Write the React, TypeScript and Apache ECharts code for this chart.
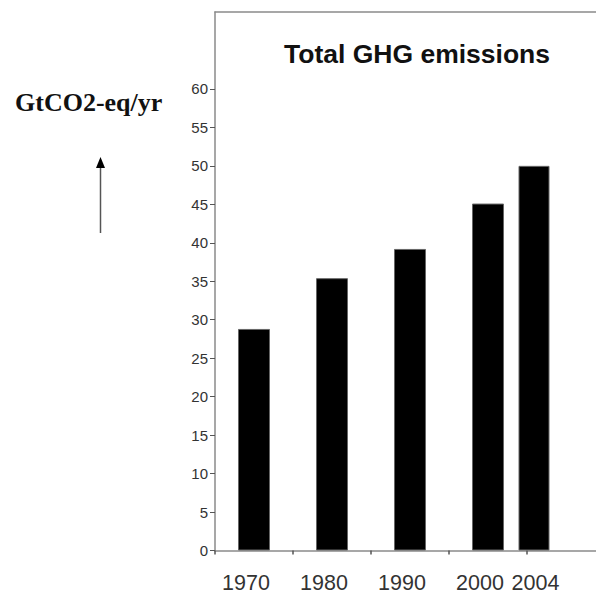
import React, { useEffect, useRef } from "react";
import * as echarts from "echarts";

// Decade bars share the regular category axis; the 2004 bar sits in its own
// narrow slot just right of the 2000 bar, as in the reference figure.
const decadeYears = ["1970", "1980", "1990", "2000"];
const decadeEmissions = [28.8, 35.4, 39.2, 45.1];
const latestYear = ["2004"];
const latestEmissions = [50.0];
const yTickValues = [0, 5, 10, 15, 20, 25, 30, 35, 40, 45, 50, 55, 60];
const chartTitle = "Total GHG emissions";
const unitLabel = "GtCO2-eq/yr";

const FONT = "Liberation Sans, Arial, sans-serif";
const AXIS_GREY = "#8a8a8a";

export default function App() {
  const ref = useRef<HTMLDivElement>(null);
  useEffect(() => {
    if (!ref.current) return;
    const chart = echarts.init(ref.current, undefined, { renderer: "svg" });
    const frameLine = (position: "top" | "bottom") => ({
      gridIndex: 2,
      type: "value",
      position,
      min: 0,
      max: 1,
      axisLine: { show: true, lineStyle: { color: AXIS_GREY, width: 1.5 } },
      axisTick: { show: false },
      axisLabel: { show: false },
      splitLine: { show: false },
    });
    chart.setOption({
      animation: false,
      backgroundColor: "#fff",
      grid: [
        { left: 215, top: 12, bottom: 44.5, width: 312 },
        { left: 472, top: 12, bottom: 44.5, right: 0 },
        { left: 215, top: 12, bottom: 44.5, right: 0 },
      ],
      title: {
        text: chartTitle,
        left: 412,
        textAlign: "center",
        top: 35,
        textStyle: {
          fontFamily: FONT,
          fontSize: 26.5,
          fontWeight: "bold",
          color: "#111",
        },
      },
      xAxis: [
        {
          gridIndex: 0,
          type: "category",
          data: decadeYears,
          axisLine: { show: false },
          axisTick: { show: true, length: 4, lineStyle: { color: "#555", width: 1.5 } },
          splitLine: { show: false },
          axisLabel: {
            margin: 21,
            formatter: (v: string) => `{l|${v}}`,
            rich: {
              l: { padding: [0, 16, 0, 0], fontSize: 21.5, color: "#333", fontFamily: FONT },
            },
          },
        },
        {
          gridIndex: 1,
          type: "category",
          data: latestYear,
          axisLine: { show: false },
          axisTick: { show: false },
          splitLine: { show: false },
          axisLabel: {
            margin: 21,
            formatter: (v: string) => `{r|${v}}`,
            rich: {
              r: { padding: [0, 0, 0, 3], fontSize: 21.5, color: "#333", fontFamily: FONT },
            },
          },
        },
        frameLine("bottom"),
        frameLine("top"),
      ],
      yAxis: [
        {
          gridIndex: 0,
          type: "value",
          min: 0,
          max: 70,
          axisLine: { show: true, lineStyle: { color: AXIS_GREY, width: 1.5 } },
          axisTick: {
            show: true,
            customValues: yTickValues,
            length: 5,
            lineStyle: { color: "#555", width: 1 },
          },
          splitLine: { show: false },
          axisLabel: {
            customValues: yTickValues,
            margin: 7,
            fontFamily: FONT,
            fontSize: 15,
            color: "#333",
          },
        },
        {
          gridIndex: 1,
          type: "value",
          min: 0,
          max: 70,
          show: false,
          splitLine: { show: false },
        },
        {
          gridIndex: 2,
          type: "value",
          min: 0,
          max: 70,
          show: false,
          splitLine: { show: false },
        },
      ],
      series: [
        {
          type: "bar",
          xAxisIndex: 0,
          yAxisIndex: 0,
          data: decadeEmissions,
          barWidth: 32,
          itemStyle: { color: "#000", borderColor: "#666", borderWidth: 1 },
        },
        {
          type: "bar",
          xAxisIndex: 1,
          yAxisIndex: 1,
          data: latestEmissions,
          barWidth: 31,
          itemStyle: { color: "#000", borderColor: "#666", borderWidth: 1 },
        },
      ],
      graphic: [
        {
          type: "text",
          left: 15,
          top: 89,
          style: {
            text: unitLabel,
            font: "bold 26px 'Liberation Serif', 'Times New Roman', serif",
            fill: "#111",
          },
        },
        {
          type: "line",
          shape: { x1: 100.5, y1: 233, x2: 100.5, y2: 166 },
          style: { stroke: "#555", lineWidth: 1.5 },
        },
        {
          type: "polygon",
          shape: { points: [[100.5, 157], [96, 168], [105, 168]] },
          style: { fill: "#000" },
        },
      ],
    });
    return () => chart.dispose();
  }, []);
  return (
    <div
      ref={ref}
      style={{ position: "absolute", left: 0, top: 0, width: 596, height: 595 }}
    />
  );
}
